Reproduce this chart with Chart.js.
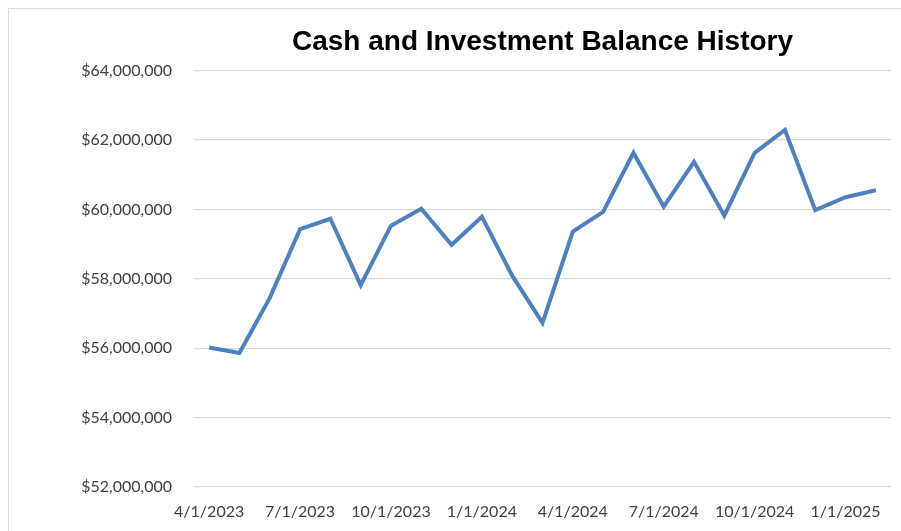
<!DOCTYPE html>
<html lang="en">
<head>
  <meta charset="UTF-8">
  <title>Cash and Investment Balance History</title>
  <script src="https://cdn.jsdelivr.net/npm/chart.js"></script>
  <style>
    html, body { margin: 0; padding: 0; background: #ffffff; overflow: hidden; }
    .frame {
      position: absolute; left: 8px; top: 8px; width: 1000px; height: 1000px;
      border-left: 1px solid #d9d9d9; border-top: 1px solid #d9d9d9;
    }
    #balanceChart { position: absolute; left: 0; top: 0; }
  </style>
</head>
<body>
  <div class="frame"></div>
  <canvas id="balanceChart" width="901" height="531"></canvas>

  <script>
    // month-start dates, Apr 2023 .. Feb 2025
    const months = [
      '4/1/2023', '5/1/2023', '6/1/2023', '7/1/2023', '8/1/2023', '9/1/2023',
      '10/1/2023', '11/1/2023', '12/1/2023', '1/1/2024', '2/1/2024', '3/1/2024',
      '4/1/2024', '5/1/2024', '6/1/2024', '7/1/2024', '8/1/2024', '9/1/2024',
      '10/1/2024', '11/1/2024', '12/1/2024', '1/1/2025', '2/1/2025'
    ];
    const balances = [
      56020000, 55860000, 57450000, 59430000, 59730000, 57820000,
      59530000, 60020000, 58980000, 59790000, 58090000, 56730000,
      59360000, 59930000, 61630000, 60080000, 61370000, 59820000,
      61630000, 62290000, 59980000, 60350000, 60550000
    ];
    const yTicks = [52000000, 54000000, 56000000, 58000000, 60000000, 62000000, 64000000];

    const labelFont = { family: 'Lato', size: 16 };

    // centre the title over the plot area, like the spreadsheet does
    const titleOverPlot = {
      id: 'titleOverPlot',
      afterLayout(chart) {
        const tb = chart.titleBlock;
        if (tb) {
          tb.left = chart.chartArea.left;
          tb.right = chart.chartArea.right;
          tb.width = tb.right - tb.left;
        }
      }
    };

    const ctx = document.getElementById('balanceChart').getContext('2d');
    new Chart(ctx, {
      type: 'line',
      data: {
        labels: months,
        datasets: [{
          label: 'Balance',
          data: balances,
          borderColor: '#4f81bd',
          borderWidth: 4,
          pointRadius: 0,
          tension: 0,
          fill: false
        }]
      },
      plugins: [titleOverPlot],
      options: {
        responsive: false,
        animation: false,
        layout: { padding: { left: 8, right: 10, top: 0, bottom: 0 } },
        plugins: {
          legend: { display: false },
          tooltip: { enabled: false },
          title: {
            display: true,
            text: 'Cash and Investment Balance History',
            color: '#000000',
            font: { family: 'Liberation Sans', size: 28, weight: 'bold', lineHeight: 1.2 },
            padding: { top: 25, bottom: 12 }
          }
        },
        scales: {
          x: {
            offset: true,
            grid: { display: false, drawTicks: false },
            border: { display: false },
            ticks: {
              autoSkip: false,
              maxRotation: 0,
              color: '#404040',
              font: labelFont,
              padding: 15,
              callback: function(value, index) {
                return index % 3 === 0 ? months[index] : '';
              }
            },
            afterFit: function(scale) { scale.height = 44; }
          },
          y: {
            min: yTicks[0],
            max: yTicks[yTicks.length - 1],
            grid: { color: '#d9d9d9', lineWidth: 1.3, drawTicks: false },
            border: { display: false },
            afterBuildTicks: function(scale) {
              scale.ticks = yTicks.map(v => ({ value: v }));
            },
            ticks: {
              color: '#404040',
              font: labelFont,
              padding: 22,
              callback: function(value) {
                return '$' + value.toLocaleString('en-US');
              }
            },
            afterFit: function(scale) { scale.width = 186; }
          }
        }
      }
    });
  </script>
</body>
</html>
